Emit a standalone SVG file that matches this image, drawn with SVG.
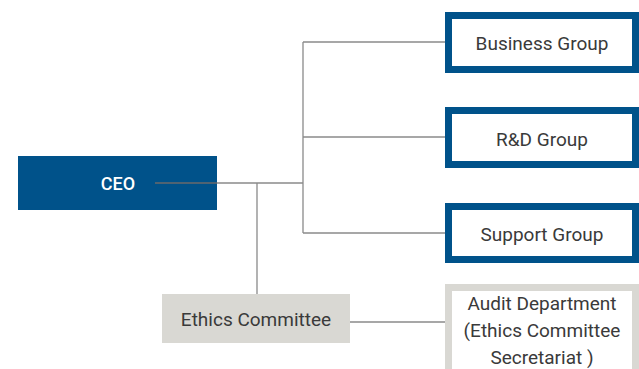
<svg xmlns="http://www.w3.org/2000/svg" width="639" height="369" viewBox="0 0 639 369">
<style>
.t{font-family:Roboto,"Liberation Sans",sans-serif;font-size:19px;fill:#3a3a3a;text-anchor:middle;dominant-baseline:central}
.grp{fill:#fff;stroke:#00528a;stroke-width:7}
.ln{stroke:#8a8a8a;stroke-width:1.3;fill:none}
</style>
<rect width="639" height="369" fill="#fff"/>
<g id="connectors">
<path class="ln" d="M155 183H303M303 42V233M303 42H445M303 137H445M303 233H445M257 183V294M350 322H445"/>
</g>
<g id="ceo">
<rect x="18" y="156" width="199" height="54" fill="#00528a"/>
<path d="M155 183H217" stroke="#6a6a6a" stroke-width="1.3"/>
<text class="t" x="118" y="183" style="fill:#fff;font-weight:500;font-size:18px">CEO</text>
</g>
<g id="business">
<rect class="grp" x="448.5" y="15.5" width="187" height="54"/>
<text class="t" x="542" y="43">Business Group</text>
</g>
<g id="rnd">
<rect class="grp" x="448.5" y="110.5" width="187" height="54"/>
<text class="t" x="542" y="139">R&amp;D Group</text>
</g>
<g id="support">
<rect class="grp" x="448.5" y="206.5" width="187" height="53"/>
<text class="t" x="542" y="234">Support Group</text>
</g>
<g id="ethics">
<rect x="162" y="294" width="188" height="49" fill="#d9d8d3"/>
<text class="t" x="256" y="319">Ethics Committee</text>
</g>
<g id="audit">
<rect x="448.5" y="287.5" width="187" height="90" fill="#fff" stroke="#d9d8d3" stroke-width="7"/>
<text class="t" x="542" y="303">Audit Department</text>
<text class="t" x="542" y="330">(Ethics Committee</text>
<text class="t" x="542" y="357">Secretariat )</text>
</g>
</svg>
